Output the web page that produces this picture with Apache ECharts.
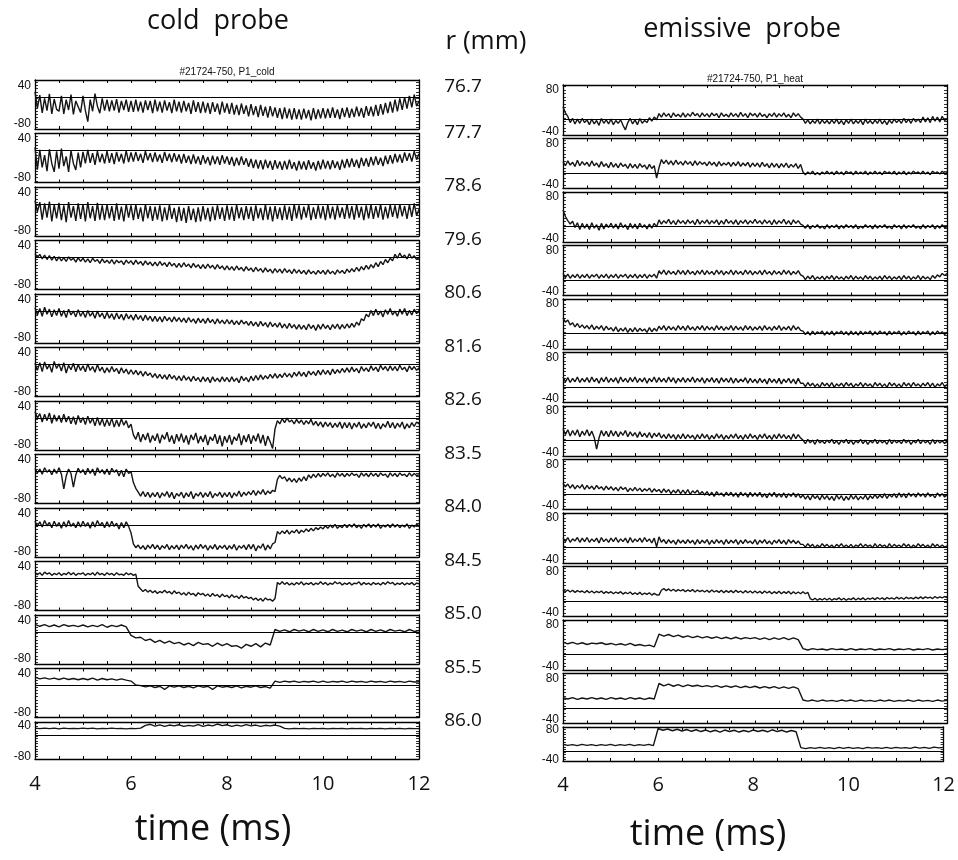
<!DOCTYPE html>
<html><head><meta charset="utf-8">
<script src="https://cdn.jsdelivr.net/npm/echarts@6/dist/echarts.min.js"></script>
<style>html,body{margin:0;padding:0;background:#fff}#c{width:958px;height:860px}</style>
</head><body><div id="c"></div>
<script>
// ---- labels ----
const rLabels = ['76.7','77.7','78.6','79.6','80.6','81.6','82.6','83.5','84.0','84.5','85.0','85.5','86.0'];
const timeTickLabels = [4, 6, 8, 10, 12];
const coldTickLabels = [40, -80];
const heatTickLabels = [80, -40];
const coldRefLevel = 5;
const heatRefLevel = -5;

// ---- cold probe signals, 4.0 .. 12.0 ms (161 samples = 0.05 ms, 81 samples = 0.1 ms) ----
const cold767 = [20,-30,10,-45,0,-38,14,-48,-2,-34, -40,8,-48,-4,-36,12,-50,-8,-26,-44, 8,-38,-72,-4,-40,15,-24,-46,0,-38, -4,-40,-6,-38,-2,-44,-8,-36,-4,-42, -8,-42,-4,-40,-10,-44,-6,-36,-8,-46, -4,-40,-10,-44,-6,-38,-12,-46,-4,-40, -10,-44,-8,-40,-14,-48,-6,-42,-12,-46, -10,-44,-14,-48,-12,-42,-16,-50,-10,-44, -16,-48,-14,-50,-20,-52,-16,-48,-22,-56, -18,-52,-24,-58,-20,-54,-26,-60,-24,-56, -28,-60,-30,-64,-28,-62,-32,-66,-30,-64, -34,-66,-32,-62,-36,-68,-30,-64,-34,-62, -30,-62,-32,-60,-28,-60,-34,-64,-30,-58, -28,-60,-32,-58,-26,-56,-30,-60,-24,-54, -26,-56,-20,-54,-18,-50,-14,-46,-10,-44, -4,-40,0,-36,4,-32,8,-28,12,-24, -8];
const cold777 = [14,-55,6,-48,-10,-60,8,-36,-62,2, -52,10,-44,-14,-62,4,-36,-56,-2,-48, 0,-36,6,-34,-4,-40,2,-32,-6,-36, 2,-34,-4,-38,0,-30,-6,-36,4,-32, -2,-30,0,-28,-6,-34,2,-26,-4,-32, -2,-30,-8,-34,0,-28,-6,-32,-4,-30, -8,-36,-6,-34,-12,-38,-8,-36,-14,-40, -10,-36,-16,-42,-12,-38,-14,-40,-10,-36, -14,-40,-16,-44,-18,-42,-14,-40,-20,-46, -22,-50,-24,-52,-26,-54,-24,-50,-28,-56, -26,-52,-30,-56,-28,-54,-24,-52,-32,-58, -28,-54,-30,-56,-26,-52,-32,-58,-28,-54, -24,-52,-28,-54,-26,-50,-30,-56,-24,-50, -22,-48,-20,-46,-24,-50,-18,-44,-20,-46, -16,-42,-14,-40,-18,-44,-12,-38,-10,-36, -6,-32,-8,-34,-2,-28,-4,-30,2,-24, -6];
const cold786 = [15,-20,10,-44,6,-38,12,-50,2,-40, 8,-46,0,-52,10,-38,-2,-48,6,-42, 4,-50,10,-40,-2,-48,8,-44,0,-46, 2,-40,-2,-48,6,-44,-4,-50,4,-38, 0,-46,2,-42,-6,-50,4,-40,-2,-48, -4,-44,0,-50,-6,-46,2,-42,-8,-52, -4,-48,-8,-54,-2,-46,-10,-52,-6,-50, -2,-44,-8,-50,-4,-46,0,-42,-6,-48, 0,-44,-4,-48,2,-40,-6,-46,-2,-42, -4,-48,0,-40,-8,-46,2,-44,-4,-50, -2,-42,-6,-46,0,-44,-4,-48,4,-40, 0,-44,-4,-38,2,-46,-6,-42,0,-40, -2,-46,2,-40,-4,-44,0,-38,-6,-42, 4,-40,-2,-44,2,-38,-4,-46,0,-40, 2,-42,-2,-38,4,-44,-4,-40,2,-36, 0,-40,4,-34,-2,-42,2,-36,6,-32, -12];
const cold796 = [16,4,14,0,12,-2,10,-4,8,-6, 6,-6,4,-8,6,-4,2,-10,4,-8, 2,-10,0,-12,2,-8,-2,-14,0,-12, -4,-14,-2,-16,-4,-12,-6,-18,-4,-14, -6,-18,-4,-16,-8,-20,-6,-18,-10,-22, -10,-22,-8,-20,-12,-24,-10,-22,-14,-26, -14,-26,-12,-24,-16,-28,-14,-26,-18,-30, -18,-30,-16,-28,-20,-32,-18,-30,-22,-34, -22,-34,-24,-36,-22,-34,-26,-38,-24,-36, -28,-40,-26,-38,-30,-42,-28,-40,-32,-44, -30,-42,-32,-44,-30,-42,-34,-46,-32,-44, -34,-46,-36,-48,-34,-46,-38,-48,-36,-46, -36,-48,-34,-46,-38,-48,-34,-44,-36,-46, -32,-42,-30,-40,-26,-38,-24,-34,-20,-32, -18,-28,-12,-24,-8,-18,-2,-12,2,-6, 14,2,18,4,12,0,16,2,10,-2, 4];
const cold806 = [14,-8,12,-12,16,-6,10,-14,8,-10, 12,-12,6,-16,10,-8,4,-14,8,-12, 2,-16,6,-12,0,-18,4,-14,-2,-20, 0,-18,-4,-22,-2,-20,-6,-24,-4,-20, -8,-24,-6,-22,-10,-26,-8,-24,-12,-28, -12,-28,-14,-30,-12,-26,-16,-30,-14,-28, -16,-30,-18,-32,-16,-30,-20,-34,-18,-32, -20,-34,-18,-32,-22,-36,-20,-34,-24,-36, -22,-36,-24,-38,-26,-38,-24,-36,-28,-40, -28,-42,-30,-44,-28,-42,-32,-46,-30,-44, -34,-46,-32,-48,-36,-50,-34,-48,-38,-52, -38,-52,-40,-54,-36,-50,-40,-56,-38,-52, -36,-50,-40,-54,-38,-50,-36,-52,-38,-50, -36,-48,-34,-46,-30,-40,-20,-26,-6,-14, 6,-10,10,-8,4,-14,8,-6,12,-8, 4,-12,10,-6,12,-10,6,-8,10,-4, 6];
const cold816 = [8,-14,10,-18,12,-10,4,-20,14,-8, 6,-16,10,-22,2,-12,8,-18,4,-14, 0,-18,6,-14,-2,-20,4,-16,-4,-22, -6,-20,-2,-18,-8,-24,-6,-22,-10,-26, -12,-26,-14,-28,-16,-32,-18,-30,-22,-36, -24,-38,-26,-40,-28,-42,-26,-40,-30,-44, -32,-46,-30,-44,-34,-48,-32,-46,-36,-50, -34,-48,-36,-52,-34,-48,-38,-50,-34,-48, -36,-50,-34,-48,-38,-52,-32,-46,-36,-50, -32,-46,-30,-44,-28,-42,-30,-40,-26,-38, -24,-38,-26,-36,-22,-34,-24,-36,-20,-32, -18,-32,-20,-34,-16,-28,-18,-30,-14,-28, -12,-26,-14,-28,-10,-24,-12,-22,-8,-20, -6,-20,-4,-18,-8,-22,-2,-16,-6,-18, 0,-14,-4,-18,2,-12,-2,-16,0,-14, -2,-16,2,-12,-4,-18,0,-12,-2,-14, -6];
const cold826 = [24,4,18,-8,16,-4,20,-12,14,-6, 12,-10,16,-8,10,-14,8,-16,12,-10, 6,-16,10,-12,4,-20,6,-18,2,-22, 0,-20,4,-24,-2,-22,2,-18,-4,-26, -15,-48,-62,-40,-70,-46,-64,-42,-72,-50, -66,-44,-74,-48,-62,-40,-70,-50,-76,-46, -68,-44,-72,-50,-78,-48,-64,-42,-74,-52, -70,-48,-80,-54,-66,-46,-76,-50,-84,-52, -72,-48,-78,-54,-66,-44,-80,-50,-70,-46, -76,-50,-68,-44,-74,-48,-82,-52,-70,-90, -30,-4,-14,2,-10,4,-8,-2,-14,0, -12,-2,-16,-4,-14,0,-18,-6,-20,-8, -24,-8,-22,-10,-26,-12,-24,-8,-28,-10, -26,-10,-30,-12,-24,-8,-28,-14,-26,-10, -22,-8,-28,-12,-30,-14,-24,-6,-26,-10, -28,-12,-24,-8,-30,-14,-26,-10,-22,-8, -14];
const cold835 = [14,0,12,-4,16,2,10,-6,12,-2, 16,-4,-50,-10,12,-2,-44,-6,14,0, 10,-6,14,-2,12,-8,16,0,10,-4, 12,-6,14,2,10,-10,8,-12,12,-2, 4,-30,-48,-60,-72,-58,-74,-60,-76,-62, -74,-60,-78,-62,-72,-58,-76,-60,-80,-64, -72,-60,-78,-62,-74,-58,-80,-64,-72,-60, -76,-62,-74,-58,-78,-64,-72,-60,-76,-62, -74,-60,-78,-62,-72,-56,-74,-60,-70,-58, -68,-54,-70,-56,-66,-52,-68,-56,-64,-54, -58,-20,-8,-18,-12,-26,-16,-28,-18,-30, -16,-26,-12,-24,-6,-16,-4,-14,-2,-12, -2,-10,0,-12,-4,-14,0,-10,-2,-12, -2,-10,0,-8,-4,-14,0,-10,-2,-12, 0,-10,-2,-12,0,-8,-4,-14,0,-10, -2,-12,0,-8,-4,-12,0,-10,-2,-8, -6];
const cold840 = [16,0,14,-2,18,2,12,-4,16,0, 12,-6,14,-2,18,0,10,-4,14,-2, 16,0,12,-6,14,-2,18,2,12,-4, 14,-2,16,0,10,-8,12,-4,14,0, -20,-54,-66,-58,-70,-60,-72,-58,-68,-56, -70,-58,-72,-60,-68,-56,-72,-60,-70,-58, -72,-58,-68,-56,-70,-60,-74,-58,-70,-56, -68,-58,-74,-60,-70,-56,-72,-60,-68,-58, -72,-60,-70,-56,-74,-60,-68,-58,-72,-56, -70,-56,-76,-60,-68,-54,-74,-58,-70,-54, -50,-16,-24,-14,-22,-12,-24,-14,-20,-10, -22,-12,-18,-8,-16,-6,-14,-4,-10,-2, -8,2,-6,4,-4,6,-6,2,-4,6, -4,6,-2,8,-4,4,-6,6,-2,8, -4,6,-2,8,-6,4,-2,6,-4,8, -2,6,-4,4,-2,8,-6,4,-2,6, 2];
const cold845 = [24,16,22,14,24,18,22,14,20,16, 22,14,20,16,24,16,22,14,20,18, 22,14,20,16,22,14,24,16,20,14, 22,16,20,14,22,16,18,14,22,16, 20,14,18,-20,-28,-36,-30,-38,-32,-40, -34,-42,-36,-40,-32,-40,-36,-44,-34,-42, -38,-46,-40,-48,-38,-46,-42,-50,-40,-46, -42,-50,-44,-52,-42,-50,-46,-54,-44,-52, -48,-56,-46,-54,-50,-58,-48,-56,-52,-58, -54,-62,-56,-64,-58,-66,-56,-62,-60,-66, -58,-8,-14,-6,-14,-8,-16,-10,-16,-8, -14,-6,-16,-10,-14,-8,-16,-10,-14,-6, -14,-8,-16,-10,-14,-6,-12,-8,-16,-10, -14,-8,-16,-10,-12,-6,-16,-8,-14,-10, -16,-8,-14,-10,-16,-8,-14,-6,-12,-8, -16,-10,-14,-8,-16,-10,-14,-8,-16,-10, -12];
const cold850 = [28,22,27,21,26,20,27,22,25,21, 26,20,25,21,27,19,25,21,26,20, -6,-14,-12,-22,-18,-28,-22,-30,-24,-32, -28,-36,-30,-38,-28,-34,-32,-40,-30,-38, -32,-40,-38,-46,-34,-40,-32,-42,-30,-36, 12,6,11,5,12,7,11,5,12,6, 11,5,12,6,10,5,12,7,11,5, 12,6,11,5,12,7,10,5,12,6, 9];
const cold855 = [30,25,28,24,27,23,27,23,26,22, 26,22,27,21,26,22,25,21,25,21, 18,6,4,0,3,-2,2,-8,3,-1, 3,-2,2,-3,3,-1,2,-8,3,-1, 2,-2,3,-3,2,-1,3,-2,1,-4, 18,14,18,15,18,14,17,15,18,14, 18,14,17,15,18,14,18,15,17,14, 18,15,17,14,18,15,17,14,18,15, 16];
const cold860 = [31,29,31,29,31,28,31,29,30,29, 31,29,31,28,30,29,31,29,30,28, 30,29,31,42,46,39,44,38,43,40, 44,38,42,39,45,38,43,40,47,41, 44,38,43,39,45,40,43,38,42,40, 43,39,30,28,30,29,30,28,30,29, 30,28,30,29,30,28,30,29,30,28, 30,29,30,28,30,29,30,28,30,29, 29];

// ---- emissive probe signals, 4.0 .. 12.0 ms ----
const heat767 = [32,14,4,-14,-2,-18,-4,-16,-2,-14, -6,-20,-4,-18,-8,-22,-2,-16,-6,-18, -4,-20,-8,-16,-6,-22,-35,-14,-2,-18, -6,-20,-2,-16,-8,-14,0,-10,2,-6, 12,2,14,4,12,0,14,4,10,2, 14,2,12,4,16,6,12,2,14,4, 12,2,14,6,12,0,14,4,10,2, 14,4,12,2,16,4,12,0,14,6, 12,2,14,4,10,0,12,4,14,2, 12,4,14,2,10,0,14,4,12,2, -4,-16,-6,-18,-8,-16,-4,-18,-6,-16, -8,-18,-6,-16,-4,-18,-8,-20,-6,-16, -4,-18,-8,-16,-6,-20,-4,-16,-8,-18, -6,-16,-4,-18,-8,-20,-6,-16,-4,-14, -6,-16,-2,-14,-4,-16,-2,-12,-4,-14, 2,-12,0,-14,4,-10,2,-12,4,-8, -4];
const heat777 = [28,16,30,18,26,14,32,16,28,18, 26,14,30,16,24,12,28,14,22,10, 26,12,22,10,24,14,20,8,22,10, 20,8,22,12,18,6,20,8,16,-20, 10,34,22,32,20,30,18,32,20,28, 18,30,20,28,16,30,18,28,20,26, 16,28,18,26,14,28,16,24,18,26, 14,26,16,28,14,24,16,26,12,24, 14,24,12,26,14,22,10,24,12,22, 10,22,12,24,10,20,12,22,8,20, -2,-10,-2,-8,0,-10,-4,-10,-2,-8, 0,-8,-2,-10,0,-8,-2,-10,0,-6, -2,-10,0,-8,-2,-8,0,-10,-2,-8, 0,-8,-2,-10,0,-6,-2,-8,0,-10, -2,-8,0,-10,-2,-8,0,-6,-2,-8, 0,-8,-2,-10,0,-6,-2,-8,0,-6, -4];
const heat786 = [43,24,12,2,10,-8,6,-14,4,-10, 2,-14,6,-10,0,-16,4,-12,2,-8, 4,-10,2,-12,6,-8,0,-14,4,-10, 2,-12,4,-8,0,-12,2,-10,4,-6, 14,2,12,4,16,2,12,0,14,4, 12,2,14,4,12,0,16,2,12,4, 14,2,12,4,14,0,12,2,16,4, 12,2,14,0,12,4,14,2,12,4, 16,4,12,2,14,4,12,0,14,2, 12,4,16,2,12,0,14,4,12,2, -2,-10,0,-12,-2,-8,0,-10,-4,-12, 0,-10,-2,-8,0,-12,-2,-10,0,-8, -2,-10,0,-12,-4,-10,0,-8,-2,-12, 0,-10,-2,-8,0,-10,-4,-12,0,-8, -2,-12,0,-10,-2,-8,0,-10,-4,-12, 0,-10,-2,-8,0,-12,-2,-10,0,-8, -6];
const heat796 = [14,2,12,0,10,2,12,0,10,2, 12,0,10,4,12,0,10,2,12,0, 10,2,12,0,10,4,12,0,10,2, 12,0,10,2,12,0,10,4,12,0, 22,12,24,10,22,12,20,10,24,12, 22,10,24,12,20,10,22,12,24,10, 22,12,20,10,24,12,22,10,20,12, 24,10,22,12,20,10,24,12,22,10, 20,12,22,10,24,12,20,10,22,12, 20,10,24,12,22,10,20,12,22,10, 6,-4,6,-2,8,-4,4,-2,6,-4, 6,-2,8,-4,6,-2,4,-4,6,-2, 8,-4,6,-2,4,-4,8,-2,6,-4, 4,-2,6,-4,8,-2,6,-4,4,-2, 6,-4,8,-2,6,-4,4,-2,8,-4, 6,-2,4,-4,8,0,10,4,14,8, 14];
const heat806 = [40,28,34,20,26,14,24,12,20,10, 18,8,20,6,16,8,18,4,16,6, 12,2,14,0,10,2,12,-2,10,0, 12,0,10,2,8,-2,12,0,10,2, 16,6,18,4,16,6,14,4,18,6, 16,4,18,6,14,4,16,6,18,4, 16,6,14,4,18,6,16,4,14,6, 18,4,16,6,14,4,18,6,16,4, 14,6,16,4,18,6,14,4,16,6, 18,4,14,6,16,4,18,6,14,4, 2,-8,0,-10,2,-8,0,-6,2,-10, 0,-8,2,-10,0,-6,2,-8,0,-10, 2,-8,0,-10,2,-8,0,-6,2,-10, 0,-8,2,-6,0,-10,2,-8,0,-6, 2,-10,0,-8,2,-6,0,-10,2,-8, 0,-6,2,-10,0,-8,2,-6,0,-8, -2];
const heat816 = [24,10,22,8,20,10,24,8,20,10, 22,8,24,10,20,6,22,10,24,8, 20,10,22,6,24,10,20,8,22,10, 24,8,20,10,22,6,20,10,24,8, 22,10,20,8,24,10,22,6,20,10, 22,8,20,10,24,8,20,10,22,6, 20,10,22,8,20,6,22,10,20,8, 22,6,20,8,18,10,22,6,20,8, 18,6,20,8,18,4,20,8,18,6, 20,4,18,8,20,6,18,4,20,6, 6,-4,8,-2,6,-4,4,-6,8,-2, 6,-4,8,-6,4,-2,6,-4,8,-2, 6,-6,4,-2,8,-4,6,-2,4,-6, 8,-2,6,-4,4,-6,8,-2,6,-4, 4,-6,8,-2,6,-4,8,-2,4,-4, 6,-2,8,-4,6,-6,4,-2,8,-4, 2];
const heat826 = [30,12,26,8,24,10,26,6,22,10, 26,8,22,4,-30,2,24,8,22,6, 24,8,22,6,20,10,24,6,20,8, 18,4,20,6,16,4,18,2,16,6, 17,2,12,0,14,2,12,-2,12,0, 14,0,12,2,10,-2,12,0,14,2, 12,-2,10,0,14,2,12,-2,10,0, 12,2,14,0,10,-2,12,0,14,2, 10,-2,12,2,14,0,10,-2,12,0, 14,2,12,0,10,-2,14,0,12,2, -4,-14,-2,-12,-4,-16,-2,-12,-6,-14, -4,-12,-2,-14,-6,-16,-4,-12,-2,-14, -4,-16,-6,-12,-2,-14,-4,-16,-6,-12, -2,-14,-4,-12,-6,-16,-2,-14,-4,-12, -6,-14,-2,-12,-4,-16,-6,-12,-2,-14, -4,-12,-6,-16,-2,-14,-4,-12,-6,-14, -6];
const heat835 = [26,16,24,12,22,10,20,12,22,8, 20,10,18,8,20,10,16,6,18,8, 16,6,14,4,16,8,14,2,12,4, 14,4,12,2,10,4,12,0,10,2, 8,-2,10,0,8,-4,6,-2,8,-4, 6,-4,8,-6,4,-2,6,-6,2,-8, 2,-10,0,-12,2,-8,-2,-12,0,-10, 0,-12,-2,-14,0,-10,-2,-14,0,-12, -2,-12,0,-14,-4,-16,-2,-12,0,-14, -4,-14,-2,-16,-4,-12,-2,-14,-4,-16, -8,-20,-10,-22,-8,-18,-10,-22,-8,-20, -10,-22,-12,-24,-8,-20,-10,-24,-12,-22, -8,-20,-10,-22,-12,-20,-8,-22,-10,-18, -6,-18,-8,-16,-4,-18,-6,-14,-4,-16, -2,-14,-4,-16,-2,-12,-4,-14,-2,-12, -4,-14,-2,-12,-6,-16,-2,-12,-4,-14, -8];
const heat840 = [22,12,24,10,20,14,24,10,22,12, 24,10,20,12,22,8,24,12,20,10, 22,12,24,10,20,12,22,8,24,10, 20,12,22,10,24,12,20,8,22,-3, 26,10,18,6,18,8,16,4,18,8, 16,6,18,8,16,4,18,6,16,8, 18,4,16,6,18,8,16,4,18,6, 16,8,18,4,16,6,18,8,14,6, 18,4,16,8,18,6,14,4,16,8, 18,6,16,4,18,8,16,6,14,4, 4,-4,6,-2,4,-6,2,-4,6,-2, 4,-4,2,-6,4,-2,6,-4,2,-4, 4,-6,2,-2,6,-4,4,-2,2,-6, 6,-4,4,-2,2,-6,6,-4,4,-2, 2,-4,6,-2,4,-6,2,-4,6,-2, 4,-4,2,-6,6,-2,4,-4,2,-4, 0];
const heat845 = [28,22,27,21,26,20,25,21,24,19, 25,19,24,18,23,19,24,17,22,18, 22,16,21,17,22,15,20,16,21,14, 19,14,20,13,18,14,19,12,17,13, 12,26,31,25,30,24,29,23,28,24, 28,22,27,23,28,21,27,22,26,21, 26,20,27,21,25,20,26,19,25,20, 25,19,26,20,24,18,25,19,24,18, 24,18,23,17,24,18,23,16,22,17, 23,16,22,17,23,15,22,16,21,16, 22,16,20,2,-2,3,-3,2,-2,3, -2,3,-3,2,-1,4,-2,3,-3,2, -1,4,-2,3,-1,4,-2,3,0,4, -1,5,0,4,-1,5,1,4,0,6, 1,5,0,6,2,5,1,6,2,7, 2,7,3,6,2,8,3,7,4,8, 5];
const heat850 = [31,26,30,25,29,24,28,26,29,24, 27,23,26,22,27,21,24,20,22,17, 54,48,53,47,51,45,49,44,48,43, 47,42,46,41,45,40,45,40,44,41, 44,39,43,38,43,39,44,38,43,38, 12,8,12,9,11,8,12,9,11,8, 12,8,11,9,12,8,11,9,12,8, 11,9,12,8,11,9,12,8,11,9, 11];
const heat855 = [25,21,25,20,24,21,25,21,24,20, 25,21,24,20,25,21,24,20,24,21, 66,59,64,58,63,57,62,58,61,57, 60,56,60,55,59,55,59,54,58,54, 58,53,57,53,57,52,56,52,56,51, 18,15,18,14,18,15,17,14,18,15, 18,14,18,15,17,14,18,15,18,14, 17,15,18,14,18,15,17,14,18,15, 17];
const heat860 = [21,17,20,16,21,17,20,16,20,17, 21,16,20,17,21,16,20,17,21,16, 84,77,82,75,81,74,80,73,79,72, 78,71,77,70,78,72,77,70,76,71, 78,72,77,71,79,72,77,70,76,71, 8,4,8,5,9,5,8,4,9,5, 9,5,8,4,9,6,8,5,9,5, 9,6,8,5,10,6,9,5,10,7, 9];

const coldSignals = [cold767,cold777,cold786,cold796,cold806,cold816,cold826,cold835,cold840,cold845,cold850,cold855,cold860];
const heatSignals = [heat767,heat777,heat786,heat796,heat806,heat816,heat826,heat835,heat840,heat845,heat850,heat855,heat860];
const tStart = 4, tEnd = 12;
// uniform sampling grid of each recorded signal
function sampleTimes(n) { return Array.from({length: n}, (_, k) => tStart + (tEnd - tStart) * k / (n - 1)); }

// ---- build chart ----
const grids = [], xAxes = [], yAxes = [], series = [];
function addPanel(isCold, i, values) {
  const last = i === 12;
  const top = isCold ? 80 + 53.5 * i : 85 + 53.5 * i;
  const height = last ? (isCold ? 37 : 34) : (isCold ? 49 : 50);
  const left = isCold ? 35 : 563;
  const gi = grids.length;
  grids.push({left: left, top: top, width: 384, height: height});
  const yMin = isCold ? (last ? -90 : -95) : (last ? -45 : -50);
  const yMax = isCold ? (last ? 55 : 57) : (last ? 90 : 95);
  const tickVals = [];
  for (let v = Math.ceil(yMin / 10) * 10; v <= yMax; v += 10) tickVals.push(v);
  const lineSt = {show: true, onZero: false, lineStyle: {color: '#000', width: 1.3}};
  const xBase = {type: 'value', gridIndex: gi, min: 4, max: 12, interval: 0.5,
    axisLine: lineSt, splitLine: {show: false},
    axisTick: {show: true, inside: true, length: 3, lineStyle: {color: '#000', width: 1}}};
  xAxes.push(Object.assign({}, xBase, {position: 'bottom',
    axisLabel: last ? {show: true, customValues: timeTickLabels, fontSize: 20, fontFamily: 'Open Sans', color: '#111', margin: isCold ? 15 : 14} : {show: false}}));
  xAxes.push(Object.assign({}, xBase, {position: 'top', axisLabel: {show: false}}));
  const yBase = {type: 'value', gridIndex: gi, min: yMin, max: yMax,
    axisLine: lineSt, splitLine: {show: false},
    axisTick: {show: true, inside: true, length: 3, customValues: tickVals, lineStyle: {color: '#000', width: 0.8}}};
  yAxes.push(Object.assign({}, yBase, {position: 'left',
    axisLabel: {show: true, customValues: isCold ? coldTickLabels : heatTickLabels, fontSize: 12, fontFamily: 'Liberation Sans', color: '#111', margin: 4}}));
  yAxes.push(Object.assign({}, yBase, {position: 'right', axisLabel: {show: false}}));
  const times = sampleTimes(values.length);
  series.push({type: 'line', xAxisIndex: 2 * gi, yAxisIndex: 2 * gi,
    data: times.map((t, k) => [t, values[k]]),
    showSymbol: false, symbol: 'none', silent: true, animation: false,
    lineStyle: {color: '#151515', width: 1.4},
    markLine: {silent: true, symbol: 'none', animation: false, label: {show: false},
      lineStyle: {color: '#000', type: 'solid', width: 1},
      data: [{yAxis: isCold ? coldRefLevel : heatRefLevel}]}});
}
coldSignals.forEach((s, i) => addPanel(true, i, s));
heatSignals.forEach((s, i) => addPanel(false, i, s));

function txt(x, y, text, size, family) {
  return {type: 'text', x: x, y: y, silent: true,
    style: {text: text, fontSize: size, fontFamily: family, fill: '#111',
      textAlign: 'center', align: 'center', textVerticalAlign: 'middle', verticalAlign: 'middle'}};
}
const graphics = [
  txt(218, 21, 'cold  probe', 27, 'Open Sans'),
  txt(742, 29, 'emissive  probe', 27, 'Open Sans'),
  txt(486, 42, 'r (mm)', 26, 'Open Sans'),
  txt(227, 72, '#21724-750, P1_cold', 10, 'Liberation Sans'),
  txt(755, 79, '#21724-750, P1_heat', 10, 'Liberation Sans'),
  txt(213, 830, 'time (ms)', 36, 'Open Sans'),
  txt(708, 835, 'time (ms)', 36, 'Open Sans')
];
rLabels.forEach((r, i) => {
  const y = i === 0 ? 87 : 79 + 53.5 * i;
  graphics.push(txt(463, y, r, 19, 'Open Sans'));
});

const chart = echarts.init(document.getElementById('c'), null, {renderer: 'canvas'});
chart.setOption({
  animation: false,
  backgroundColor: '#fff',
  grid: grids, xAxis: xAxes, yAxis: yAxes, series: series,
  graphic: graphics
});
</script></body></html>
